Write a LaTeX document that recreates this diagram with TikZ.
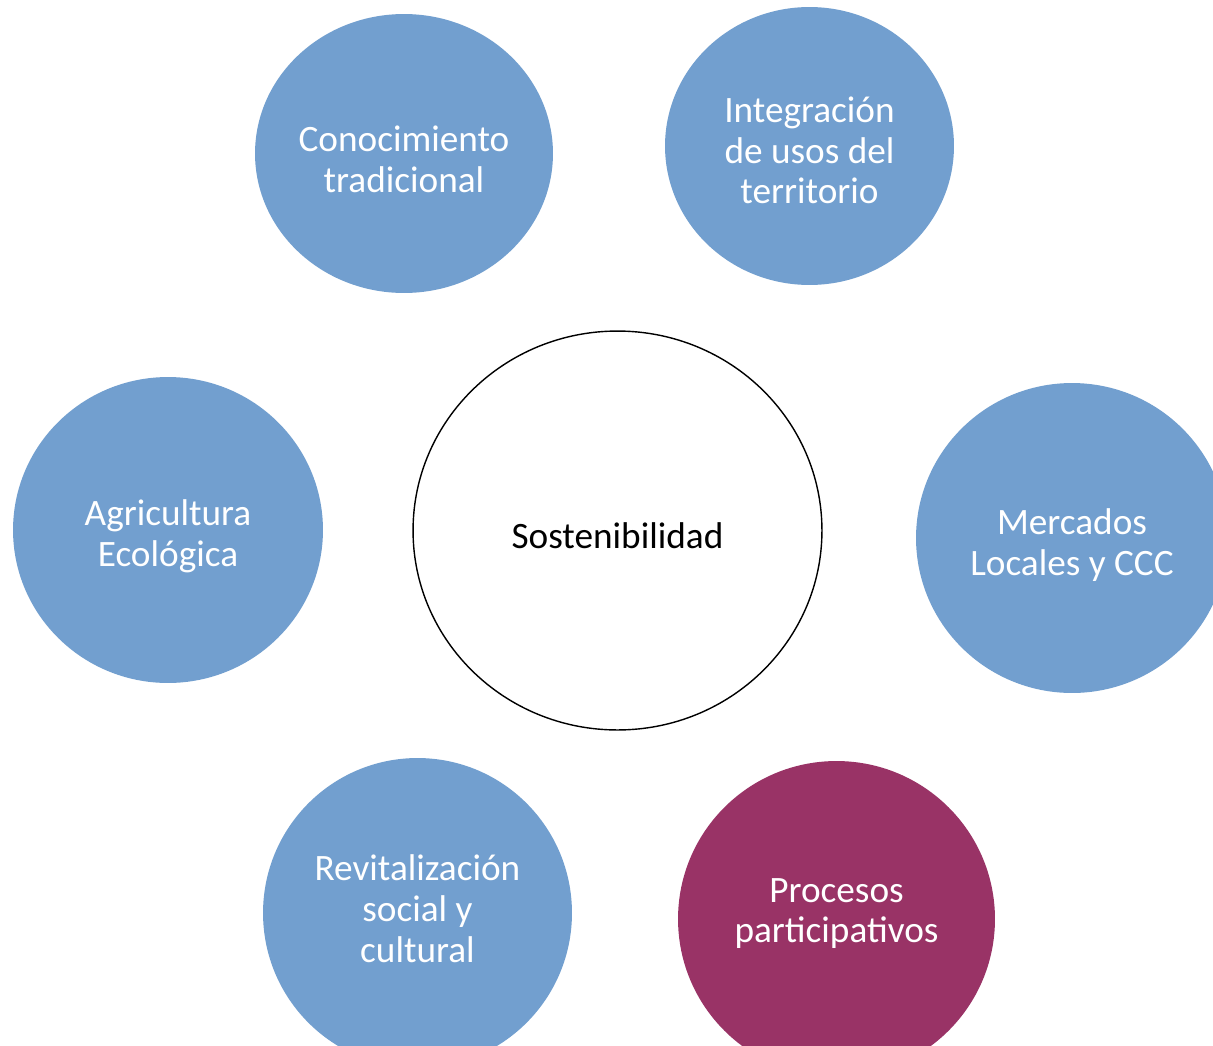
\documentclass[tikz,border=0pt]{standalone}
\usepackage{fontspec}
\setmainfont{Carlito}
\usetikzlibrary{shapes.geometric}
\definecolor{skyblue}{HTML}{729FCF}
\definecolor{wine}{HTML}{993366}
\begin{document}
\begin{tikzpicture}
[x=0.02cm,y=-0.02cm,
  bubble/.style={shape=ellipse,fill=skyblue,draw=none,inner sep=0pt},%
  centre/.style={shape=ellipse,draw=black,thick,fill=white,inner sep=0pt},%
  bubbletext/.style={text=white,align=center,font=\fontsize{21.2pt}{23.2pt}\selectfont,inner sep=0pt}]
\clip (0,0) rectangle (1213,1045);
\fill[white] (0,0) rectangle (1213,1045);
%% outer bubbles
\foreach \nodename/\x/\y/\w/\h/\dy/\txt in {
  conocimiento/404/153.5/5.96/5.58/-0.12/{Conocimiento\\tradicional},
  integracion/809.5/146/5.78/5.56/-0.09/{Integración\\de usos del\\territorio},
  agricultura/168/530/6.2/6.12/-0.13/{Agricultura\\Ecológica},
  mercados/1072/538/6.24/6.2/-0.14/{Mercados\\Locales y CCC},
  revitalizacion/417.5/913/6.18/6.2/0.09/{Revitalización\\social y\\cultural}} {
  \node (\nodename) at (\x,\y) [bubble,minimum width=\w cm,minimum height=\h cm] {};
  \node (\nodename-txt) at ([yshift=\dy cm]\nodename.center) [bubbletext] {\txt};
}
\node (procesos) at (836.5,919) [bubble,fill=wine,minimum width=6.34cm,minimum height=6.32cm] {};
\node (procesos-txt) at ([yshift=0.11cm]procesos.center) [bubbletext] {Procesos\\participativos};
%% centre
\node (sostenibilidad) at (617.5,530.5) [centre,minimum width=8.18cm,minimum height=7.98cm] {};
\node (sostenibilidad-txt) at ([yshift=-0.11cm]sostenibilidad.center) [bubbletext,text=black] {Sostenibilidad};
\end{tikzpicture}
\end{document}
